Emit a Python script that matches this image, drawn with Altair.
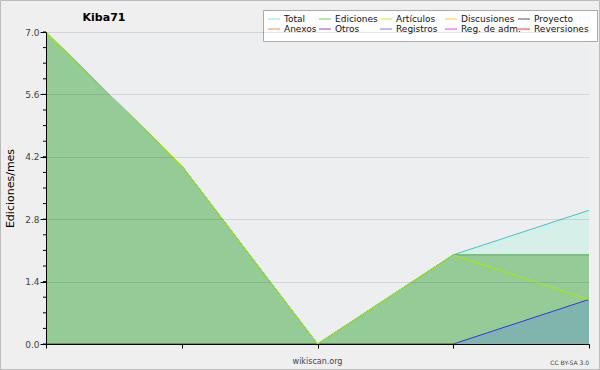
import altair as alt
import pandas as pd

# ---- data ----
months = [0, 1, 2, 3, 4]
total = [7, 4, 0, 2, 3]
ediciones = [7, 4, 0, 2, 2]
articulos = [7, 4, 0, 2, 1]
registros = [0, 0, 0, 0, 1]

y_ticks = [0.0, 1.4, 2.8, 4.2, 5.6, 7.0]
y_minor = [round(i * 0.35, 2) for i in range(21)]

legend_names = ["Total", "Ediciones", "Artículos", "Discusiones", "Proyecto",
                "Anexos", "Otros", "Registros", "Reg. de adm.", "Reversiones"]
legend_colors = ["#88e0e0", "#66cc66", "#c8ee33", "#ffcc33", "#555555",
                 "#ff8844", "#8844ee", "#7777ff", "#ee44ee", "#ff3333"]
legend_col_x = [222, 273, 334, 399, 472]  # swatch start, relative to plot area
legend_row_y = [-13, -3]

W, H = 543, 312

df = pd.DataFrame({"m": months, "total": total, "ediciones": ediciones,
                   "articulos": articulos, "registros": registros})

xs = alt.Scale(domain=[0, 4], nice=False, zero=False)
ys = alt.Scale(domain=[0, 7], nice=False)

base = alt.Chart(df)
X = alt.X("m:Q", scale=xs, axis=alt.Axis(values=months, labels=False, title=None,
                                         domainColor="black", tickColor="black",
                                         tickSize=4, grid=False, zindex=1))


def area(field, color, opacity=1.0):
    return base.mark_area(color=color, opacity=opacity, line=False).encode(
        x=X, y=alt.Y(f"{field}:Q", scale=ys))


def line(field, color):
    return base.mark_line(color=color, strokeWidth=1).encode(
        x=X, y=alt.Y(f"{field}:Q", scale=ys))


yaxis = alt.Axis(values=y_ticks, format=".1f", title="Ediciones/mes",
                 titleFont="DejaVu Sans", titleFontSize=11, titleFontWeight="normal",
                 titleColor="black", titlePadding=9,
                 labelFont="DejaVu Sans", labelFontSize=9, labelColor="#444",
                 labelPadding=1, tickSize=6, tickColor="black", domainColor="black",
                 grid=True, gridColor="#000000", gridOpacity=0.1, zindex=1)

a_total = base.mark_area(color="#d6efe9").encode(
    x=X, y=alt.Y("total:Q", scale=ys, axis=yaxis))
a_ed = area("ediciones", "#94cb97")
a_reg = area("registros", "#5c8cd8", 0.35)
l_total = line("total", "#3cc8c8")
l_ed = line("ediciones", "#55aa55")
l_art = line("articulos", "#aaee00")
l_reg = line("registros", "#3333ee")

minor = alt.Chart(pd.DataFrame({"v": y_minor})).mark_rule(color="black").encode(
    y=alt.Y("v:Q", scale=ys), x=alt.value(-3), x2=alt.value(0))

# legend
leg_rows = []
for i, (n, c) in enumerate(zip(legend_names, legend_colors)):
    leg_rows.append({"name": n, "color": c,
                     "x": legend_col_x[i % 5], "y": legend_row_y[i // 5]})
ldf = pd.DataFrame(leg_rows)
leg_box = alt.Chart(pd.DataFrame({"a": [0]})).mark_rect(
    fill="white", stroke="#aaaaaa", strokeWidth=1).encode(
    x=alt.value(217.5), x2=alt.value(551.5), y=alt.value(-21.5), y2=alt.value(9.5))
leg_sw = alt.Chart(ldf).mark_rule(strokeWidth=1).encode(
    x=alt.X("x:Q", scale=None), x2=alt.X2("x2:Q"),
    y=alt.Y("y:Q", scale=None),
    color=alt.Color("color:N", scale=None)).transform_calculate(x2="datum.x + 12")
leg_tx = alt.Chart(ldf).mark_text(align="left", baseline="middle", fontSize=9,
                                  font="DejaVu Sans", color="#111").encode(
    x=alt.X("tx:Q", scale=None), y=alt.Y("y:Q", scale=None),
    text="name:N").transform_calculate(tx="datum.x + 16")

title = alt.Chart(pd.DataFrame({"t": ["Kiba71"]})).mark_text(
    align="center", baseline="alphabetic", font="DejaVu Sans", fontSize=11,
    fontWeight="bold", color="black").encode(
    x=alt.value(58), y=alt.value(-11), text="t:N")
foot1 = alt.Chart(pd.DataFrame({"t": ["wikiscan.org"]})).mark_text(
    align="center", baseline="alphabetic", font="DejaVu Sans", fontSize=8,
    color="#444").encode(x=alt.value(W / 2), y=alt.value(H + 20), text="t:N")
foot2 = alt.Chart(pd.DataFrame({"t": ["CC BY-SA 3.0"]})).mark_text(
    align="right", baseline="alphabetic", font="DejaVu Sans", fontSize=6,
    color="#444").encode(x=alt.value(W), y=alt.value(H + 21), text="t:N")
border = alt.Chart(pd.DataFrame({"a": [0]})).mark_rect(
    fill=None, stroke="#bbbbbb", strokeWidth=1).encode(
    x=alt.value(-45.5), x2=alt.value(553.5), y=alt.value(-31.5), y2=alt.value(337.5))

chart = alt.layer(
    a_total, a_ed, a_reg, l_reg, l_total, l_ed, l_art, minor,
    leg_box, leg_sw, leg_tx, title, foot1, foot2, border
).properties(
    width=W, height=H, background="#efefef",
    padding={"left": 46, "top": 32, "right": 11, "bottom": 26},
    autosize=alt.AutoSizeParams(type="none"),
).configure_view(fill="#eceef0", stroke=None)

chart.save("out.html", embed_options={"renderer": "svg", "actions": False})
